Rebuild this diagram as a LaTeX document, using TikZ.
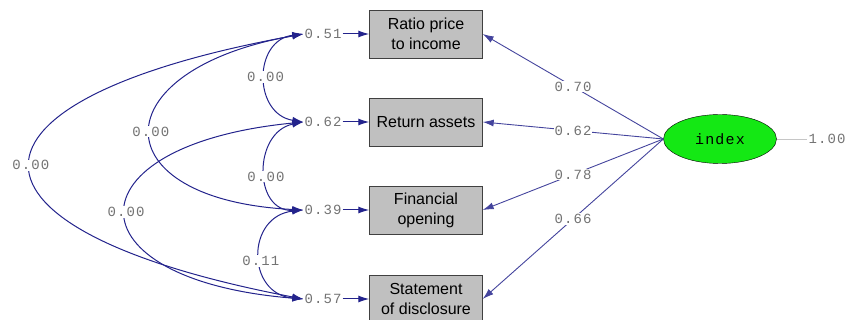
\documentclass[tikz,border=0pt]{standalone}
\usepackage{fontspec}
\setmainfont{Liberation Sans}
\newfontfamily\lblfont[LetterSpace=8]{Liberation Mono}
\usepackage{xcolor}
\usepackage{tikz}
\usetikzlibrary{arrows.meta}
\usetikzlibrary{shapes}
\usetikzlibrary{shapes.geometric}

\definecolor{pathblue}{RGB}{35,35,140}
\definecolor{lblgray}{RGB}{115,115,115}
\definecolor{boxgray}{RGB}{192,192,192}
\definecolor{latgreen}{RGB}{20,232,20}

\tikzset{
  >={Latex[length=11pt,width=7pt]},
  obsbox/.style={rectangle, draw=black!75, fill=boxgray, minimum width=113pt, minimum height=48pt, align=center, inner sep=1pt, font=\fontsize{16}{20}\selectfont},
  numlbl/.style={text=lblgray, inner sep=1pt, font=\lblfont\fontsize{14}{14}\selectfont},
  covpath/.style={<->, draw=pathblue, line width=1pt},
  loadpath/.style={->, draw=pathblue!85, line width=0.9pt}
}

\begin{document}
\begin{tikzpicture}[x=1pt, y=-1pt]
\useasboundingbox (0,0) rectangle (846,320);
% observed variables
\node [obsbox] (RP) at (426,34) {Ratio price\\to income};
\node [obsbox] (RA) at (426,122) {Return assets};
\node [obsbox] (FO) at (426,210) {Financial\\opening};
\node [obsbox] (SD) at (426,299) {Statement\\of disclosure};
% error variances
\node [numlbl] (eRP) at (323,34) {0.51};
\node [numlbl] (eRA) at (323,122) {0.62};
\node [numlbl] (eFO) at (323,210) {0.39};
\node [numlbl] (eSD) at (323,299) {0.57};
\draw [->, draw=pathblue, line width=1pt] (eRP) to (RP);
\draw [->, draw=pathblue, line width=1pt] (eRA) to (RA);
\draw [->, draw=pathblue, line width=1pt] (eFO) to (FO);
\draw [->, draw=pathblue, line width=1pt] (eSD) to (SD);
% latent factor
\node [ellipse, draw=black, fill=latgreen, minimum width=113pt, minimum height=49pt, font=\lblfont\fontsize{15}{15}\selectfont] (IX) at (720,139) {index};
\node [numlbl] (vIX) at (827,139) {1.00};
\draw [draw=gray!45, line width=0.8pt] (IX) to (vIX);
% loadings
\draw [loadpath] (IX.west) to node [numlbl, fill=white] {0.70} (RP.east);
\draw [loadpath] (IX.west) to node [numlbl, fill=white] {0.62} (RA.east);
\draw [loadpath] (IX.west) to node [numlbl, fill=white] {0.78} (FO.east);
\draw [loadpath] (IX.west) to node [numlbl, fill=white] {0.66} (SD.east);
% error covariances
\draw [covpath] (eRP.west) .. controls (253,40) and (253,114) .. node [numlbl, fill=white] {0.00} (eRA.west);
\draw [covpath] (eRA.west) .. controls (253,132) and (253,212) .. node [numlbl, fill=white, pos=0.55] {0.00} (eFO.west);
\draw [covpath] (eFO.west) .. controls (246,216) and (246,294) .. node [numlbl, fill=white, pos=0.55] {0.11} (eSD.west);
\draw [covpath] (eRP.west) .. controls (100,70) and (100,200) .. node [numlbl, fill=white] {0.00} (eFO.west);
\draw [covpath] (eRA.west) .. controls (67,145) and (67,280) .. node [numlbl, fill=white] {0.00} (eSD.west);
\draw [covpath] (eRP.west) .. controls (-60,100) and (-60,230) .. node [numlbl, fill=white] {0.00} (eSD.west);
\end{tikzpicture}
\end{document}
